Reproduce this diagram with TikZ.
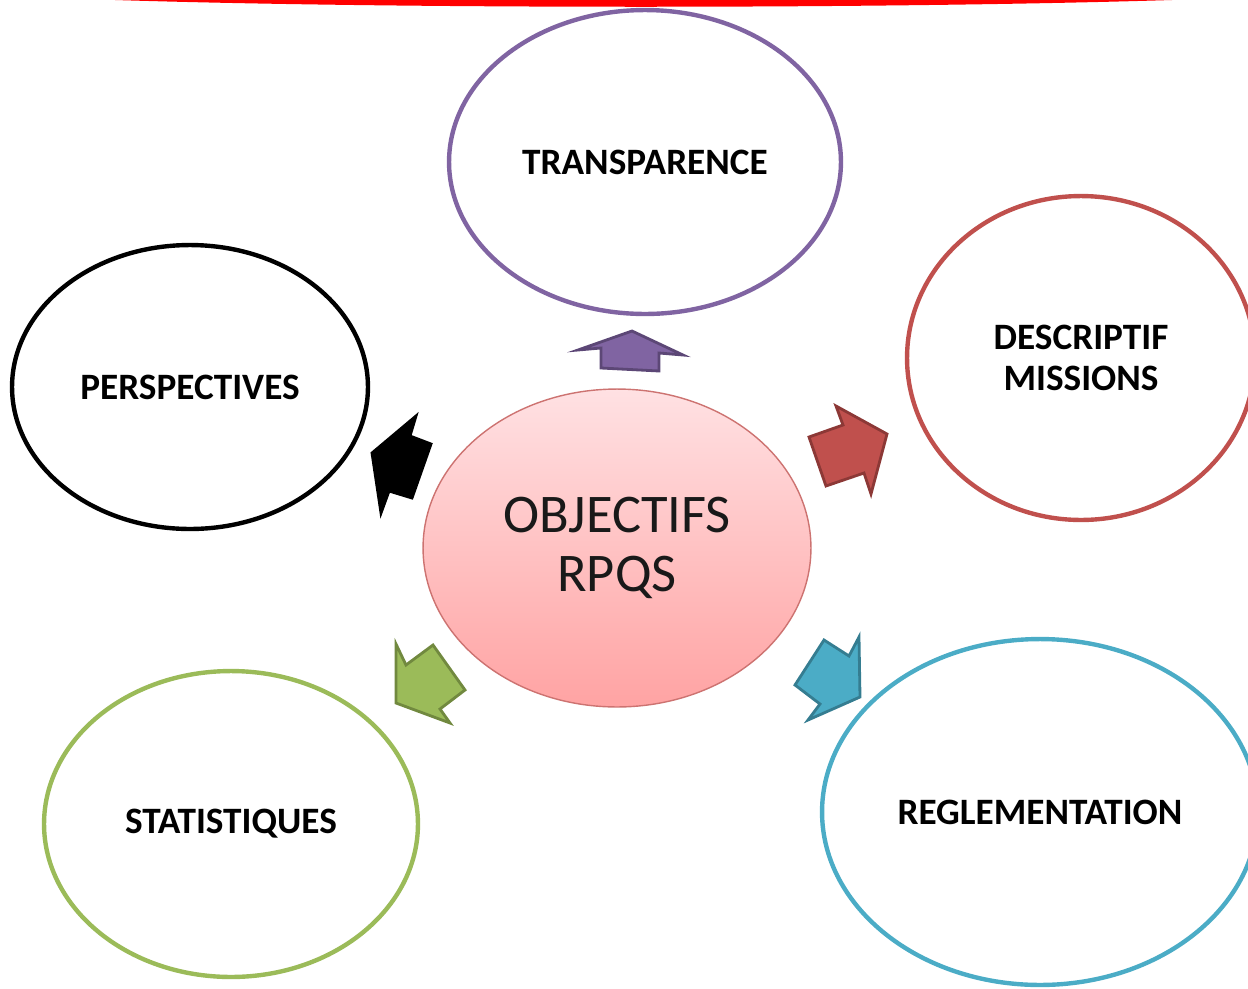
\documentclass[tikz,border=0pt]{standalone}
\usepackage{fontspec}
\setmainfont{Carlito}
\usetikzlibrary{shapes.geometric}
\definecolor{violetc}{HTML}{8064A2}
\definecolor{violetd}{HTML}{5C4776}
\definecolor{rougec}{HTML}{C0504D}
\definecolor{rouged}{HTML}{8C3836}
\definecolor{vertc}{HTML}{9BBB59}
\definecolor{vertd}{HTML}{71893F}
\definecolor{bleuc}{HTML}{4BACC6}
\definecolor{bleud}{HTML}{357D91}
\definecolor{roseh}{HTML}{FFE1E3}
\definecolor{roseb}{HTML}{FFA3A3}
\tikzset{
  bulle/.style={ellipse,draw,line width=2.5pt,inner sep=0pt,align=center,
    font=\bfseries\fontsize{21.2}{23.3}\selectfont},
  fleche/.style={line width=1.6pt,line join=miter}
}
\begin{document}
\begin{tikzpicture}[x=0.02cm,y=-0.02cm]
		\useasboundingbox (0,0) rectangle (1248,988);
		% trait rouge en haut
		\fill[red] (115,0) .. controls (400,9) and (880,9) .. (1172,0) -- cycle;
		% bulles
		\node[bulle,draw=violetc,minimum width=7.84cm,minimum height=6.08cm] (transp) at (645,162) {TRANSPARENCE};
		\node[bulle,draw=rougec,minimum width=6.96cm,minimum height=6.48cm] (descr) at (1081,358) {DESCRIPTIF\\MISSIONS};
		\node[bulle,draw=black,minimum width=7.12cm,minimum height=5.68cm] (persp) at (190,387) {PERSPECTIVES};
		\node[bulle,draw=vertc,minimum width=7.48cm,minimum height=6.12cm] (stat) at (231,824) {STATISTIQUES};
		\node[bulle,draw=bleuc,minimum width=8.72cm,minimum height=6.92cm] (regl) at (1040,812) {REGLEMENTATION};
		\node[ellipse,draw=rougec!80,line width=0.8pt,top color=roseh,bottom color=roseb,
		  minimum width=7.76cm,minimum height=6.36cm,align=center,text=black!90,
		  font=\fontsize{31}{33.5}\selectfont] (obj) at (617,548) {OBJECTIFS\\RPQS};
		% fleches
		\filldraw[fleche,fill=violetc,draw=violetd] (578,350)--(632,331)--(683,355)--(659,353)--(659,371)--(601,368)--(601,348)--cycle;
		\filldraw[fleche,fill=rougec,draw=rouged] (836,406)--(887,434)--(871,494)--(864,473)--(826,486)--(809,437)--(843,425)--cycle;
		\filldraw[fleche,fill=black,draw=black] (416,416)--(372,453)--(381,513)--(389,491)--(412,498)--(431,444)--(410,436)--cycle;
		\filldraw[fleche,fill=vertc,draw=vertd] (396,644)--(406,665)--(433,645)--(465,690)--(440,709)--(450,723)--(396,703)--cycle;
		\filldraw[fleche,fill=bleuc,draw=bleud] (859,637)--(849,656)--(824,640)--(795,685)--(820,704)--(808,720)--(860,697)--cycle;
		\end{tikzpicture}
\end{document}
